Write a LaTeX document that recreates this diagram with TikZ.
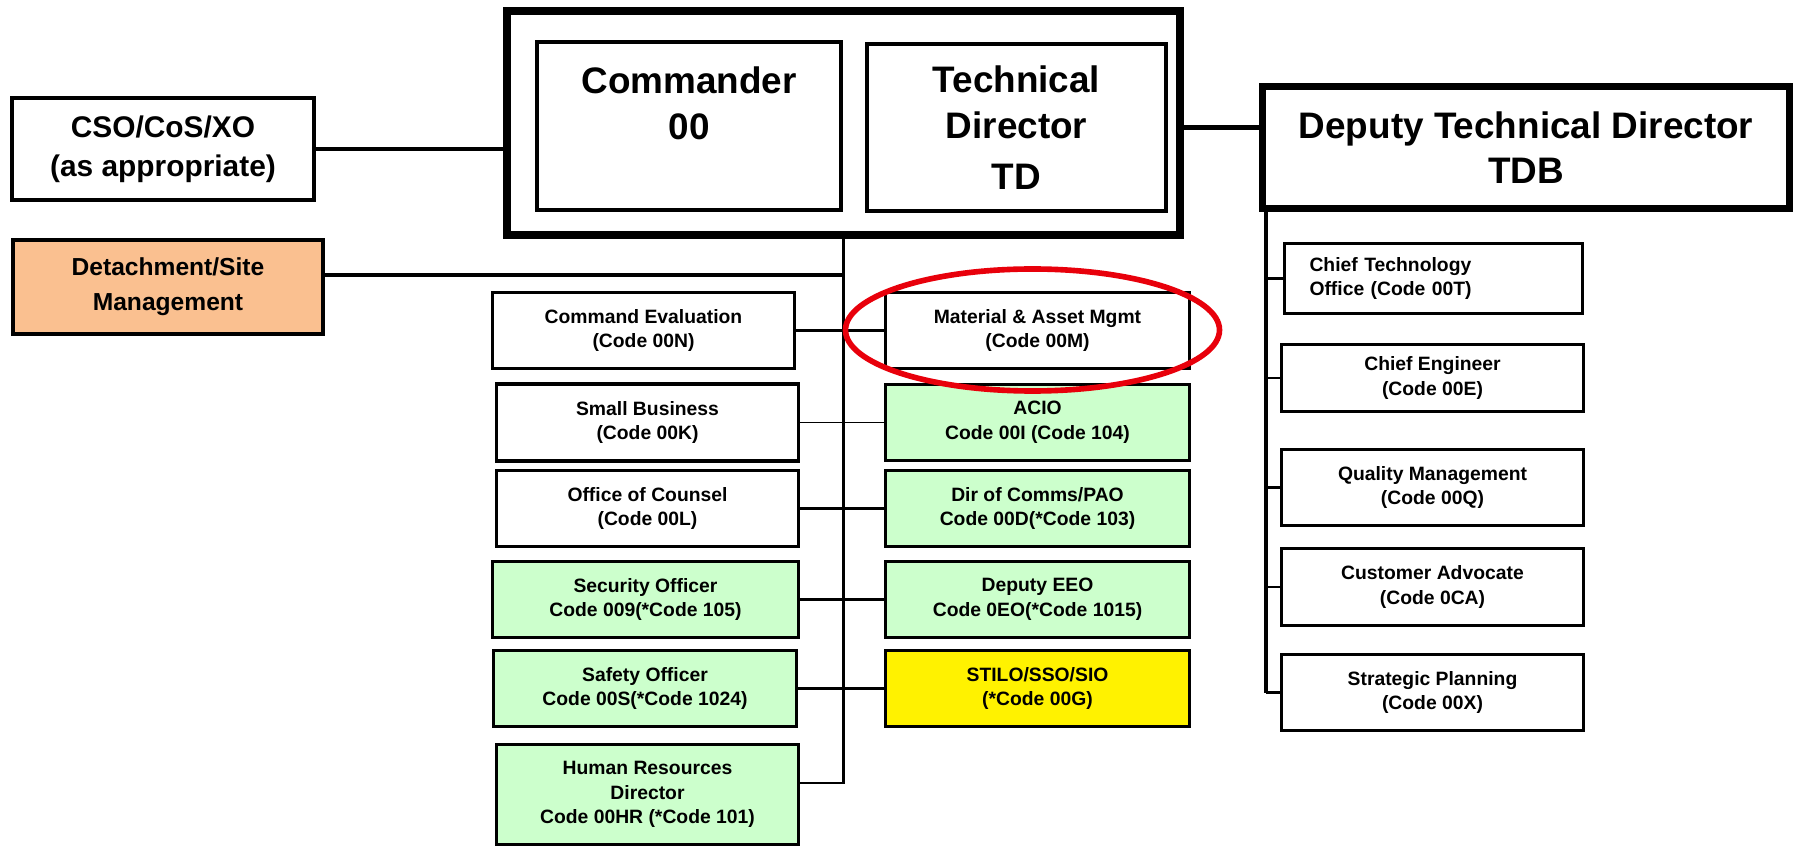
\documentclass[tikz,border=0pt]{standalone}
\usepackage{fontspec}
\setmainfont{Liberation Sans}
\definecolor{staffgreen}{HTML}{CCFFCC}
\definecolor{sitepeach}{HTML}{FAC090}
\definecolor{ringred}{HTML}{E8000B}

\begin{document}
\begin{tikzpicture}[x=0.02cm,y=-0.02cm,
    unit/.style 2 args={draw,line width=2pt,align=center,inner sep=0pt,
      minimum width=#1*0.02cm,minimum height=#2*0.02cm,
      font=\fontsize{11}{14}\selectfont\bfseries},
    headbox/.style 2 args={unit={#1}{#2},font=\fontsize{21}{26}\selectfont\bfseries},
    greenbox/.style={fill=staffgreen},
    link/.style={line width=2pt}]
    \useasboundingbox (0,0) rectangle (1798,847);

    % command group
    \node[draw,line width=4.5pt,minimum width=673*0.02cm,minimum height=224*0.02cm] (cmdgrp) at (843.5,123) {};
    \node[headbox={304}{168}] (cmd) at (689,126) {Commander\\00\\[-8pt]\strut};
    \node[headbox={299}{167}] (td) at (1016.5,127.5) {Technical\\Director\\[3pt]TD};
    \node[headbox={527}{122},line width=4pt] (dtd) at (1526,147.5) {Deputy Technical Director\\TDB};

    \node[unit={302}{102},font=\fontsize{17}{22}\selectfont\bfseries] (cso) at (163,149) {CSO/CoS/XO\\(as appropriate)};
    \node[unit={310}{94},fill=sitepeach,font=\fontsize{14}{20}\selectfont\bfseries] (det) at (168,287) {Detachment/Site\\Management};

    % staff, left column
    \node[unit={302}{76}] (ce) at (643.5,330.5) {Command Evaluation\\(Code 00N)};
    \node[unit={302}{77}] (sb) at (647.5,422.5) {Small Business\\(Code 00K)};
    \node[unit={302}{76}] (oc) at (647.5,508.5) {Office of Counsel\\(Code 00L)};
    \node[unit={306}{76},greenbox] (sec) at (645.5,599.5) {Security Officer\\Code 009(*Code 105)};
    \node[unit={303}{76},greenbox] (saf) at (645,688.5) {Safety Officer\\Code 00S(*Code 1024)};
    \node[unit={302}{100},greenbox] (hr) at (647.5,794.5) {Human Resources\\Director\\Code 00HR (*Code 101)};

    % staff, right column
    \node[unit={304}{76}] (mam) at (1037.5,330.5) {Material \& Asset Mgmt\\(Code 00M)};
    \node[unit={304}{76},greenbox] (acio) at (1037.5,422.5) {ACIO\\Code 00I (Code 104)};
    \node[unit={304}{76},greenbox] (dir) at (1037.5,508.5) {Dir of Comms/PAO\\Code 00D(*Code 103)};
    \node[unit={304}{76},greenbox] (eeo) at (1037.5,599.5) {Deputy EEO\\Code 0EO(*Code 1015)};
    \node[unit={304}{76},fill=yellow] (stilo) at (1037.5,688.5) {STILO/SSO/SIO\\(*Code 00G)};

    % under the deputy
    \node[unit={298}{70},align=left,inner xsep=25*0.02cm,text width=248*0.02cm] (cto) at (1433.5,278.5) {Chief Technology\\Office (Code 00T)};
    \node[unit={302}{67}] (eng) at (1432.5,378) {Chief Engineer\\(Code 00E)};
    \node[unit={302}{76}] (qm) at (1432.5,487.5) {Quality Management\\(Code 00Q)};
    \node[unit={302}{77}] (ca) at (1432.5,587) {Customer Advocate\\(Code 0CA)};
    \node[unit={302}{76}] (sp) at (1432.5,692.5) {Strategic Planning\\(Code 00X)};

    % connectors
    \draw[link] (cso.east) -- (cso.east -| cmdgrp.west);
    \draw[line width=2.5pt] (td.east -| cmdgrp.east) -- (td.east -| dtd.west);

    \coordinate (trunkend) at (843.5,783);
    \coordinate (sitejoin) at (843.5,275);
    \draw[line width=1.5pt] (cmdgrp.south) -- (trunkend) -- (trunkend -| hr.east);
    \draw[link] (sitejoin -| det.east) -- (sitejoin);

    \draw[link] (ce.east) -- (mam.west);
    \draw[line width=1pt] (sb.east) -- (acio.west);
    \draw[link] (oc.east) -- (dir.west);
    \draw[link] (sec.east) -- (eeo.west);
    \draw[link] (saf.east) -- (stilo.west);

    \coordinate (deptop) at (1266,210);
    \draw[link] (deptop) -- (deptop |- sp.west);
    \foreach \n in {cto,eng,qm,ca,sp}
        \draw[line width=1.5pt] (deptop |- \n.west) -- (\n.west);

    % highlight
    \draw[ringred,line width=3.2pt] (1032.5,330) ellipse [x radius=187, y radius=61];
\end{tikzpicture}
\end{document}
